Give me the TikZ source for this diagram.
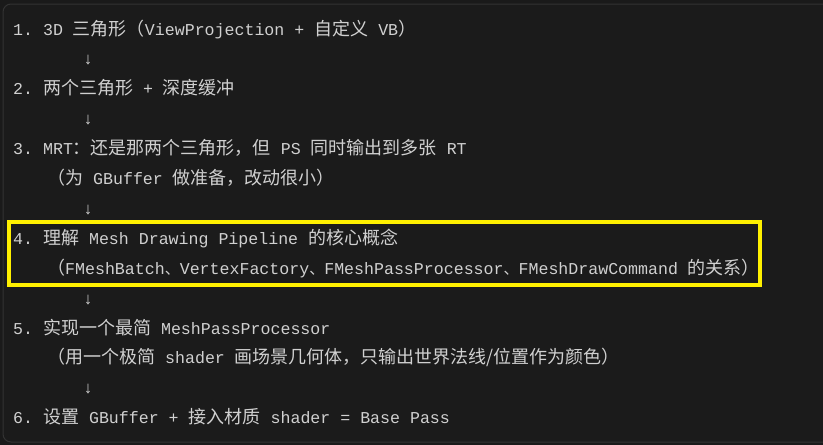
\documentclass[tikz,border=0pt]{standalone}
\usepackage{fontspec}
\setmonofont{Liberation Mono}
\newfontfamily\zhfont{Noto Sans CJK SC}
\newcommand{\zh}[1]{{\zhfont\fontsize{18}{20}\selectfont #1}}
\newcommand{\zhopen}{\makebox[12pt][r]{\zh{（}}}
\newcommand{\zhsep}{{\zhfont\fontsize{15}{20}\selectfont 、}}
\usepackage{tikz}
\usetikzlibrary{calc}
\definecolor{pagebg}{HTML}{1A1A1A}
\definecolor{panelbg}{HTML}{1B1B1B}
\definecolor{panelline}{HTML}{333333}
\definecolor{codetext}{HTML}{D0D0D0}
\definecolor{marker}{HTML}{FFF000}

\begin{document}
\begin{tikzpicture}[x=1pt,y=-1pt,
    line node/.style={anchor=base west,inner sep=0pt,text=codetext,font=\ttfamily\fontsize{16.6}{20}\selectfont},
    step arrow/.style={line node}]

        \fill[pagebg] (0,0) rectangle (823,445);
        \useasboundingbox (0,0) rectangle (823,445);
        \draw[panelline,fill=panelbg,line width=1pt,rounded corners=8pt] (3,4) rectangle (840,442);

        \node[line node] (L1) at (13,35) {1. 3D \zh{三角形（}ViewProjection + \zh{自定义} VB\zh{）}};
        \node[step arrow] (A1) at (83,64.9) {↓};
        \node[line node] (L2) at (13,94.8) {2. \zh{两个三角形} + \zh{深度缓冲}};
        \node[step arrow] (A2) at (83,124.7) {↓};
        \node[line node] (L3) at (13,154.6) {3. MRT\zh{：还是那两个三角形，但} PS \zh{同时输出到多张} RT};
        \node[line node] (L3b) at (53,184.5) {\zhopen\zh{为} GBuffer \zh{做准备，改动很小）}};
        \node[step arrow] (A3) at (83,214.4) {↓};
        \node[line node] (L4) at (13,244.3) {4. \zh{理解} Mesh Drawing Pipeline \zh{的核心概念}};
        \node[line node] (L4b) at (53,274.2) {\zhopen FMeshBatch\zhsep VertexFactory\zhsep FMeshPassProcessor\zhsep FMeshDrawCommand \zh{的关系）}};
        \node[step arrow] (A4) at (83,304.1) {↓};
        \node[line node] (L5) at (13,334) {5. \zh{实现一个最简} MeshPassProcessor};
        \node[line node] (L5b) at (53,363.9) {\zhopen\zh{用一个极简} shader \zh{画场景几何体，只输出世界法线/位置作为颜色）}};
        \node[step arrow] (A5) at (83,393.8) {↓};
        \node[line node] (L6) at (13,423.7) {6. \zh{设置} GBuffer + \zh{接入材质} shader = Base Pass};

        \draw[marker,line width=4.5pt] (9,222) rectangle (760,285);

\end{tikzpicture}
\end{document}
